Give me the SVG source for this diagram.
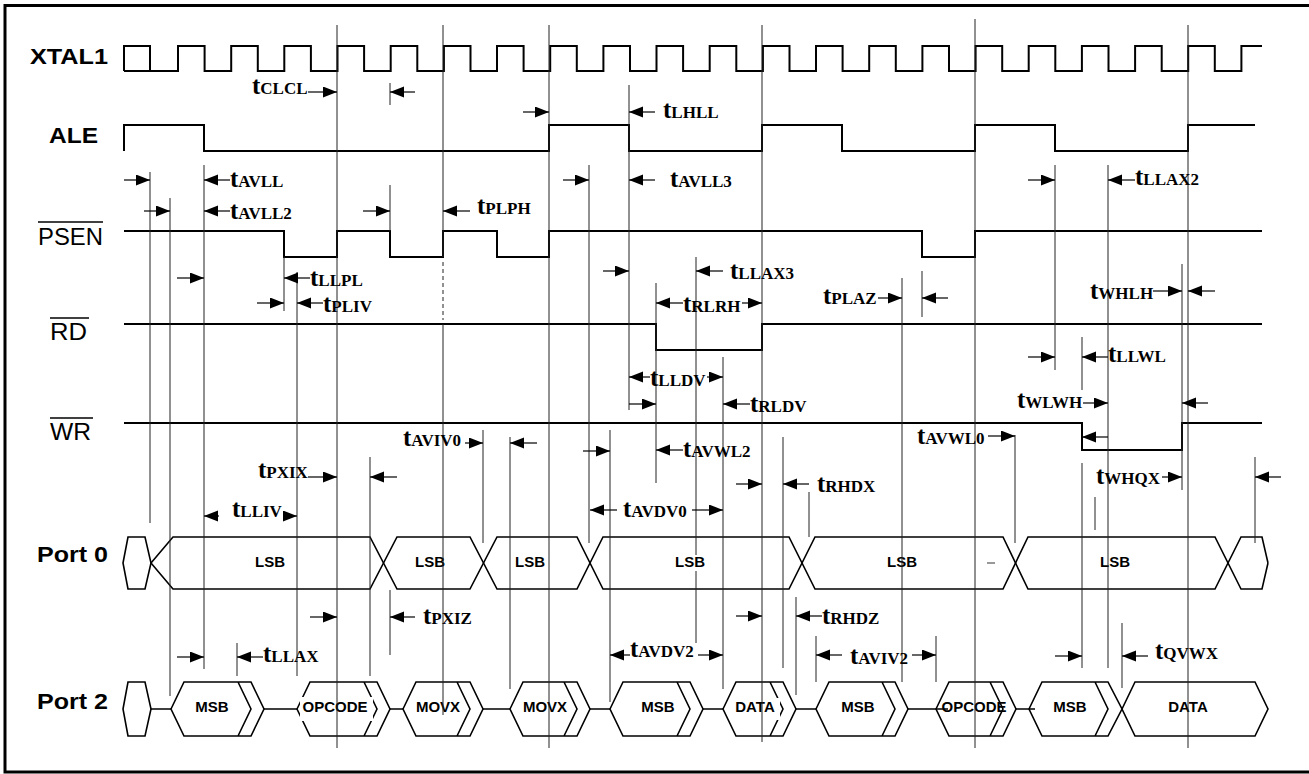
<svg xmlns="http://www.w3.org/2000/svg" width="1309" height="774" viewBox="0 0 1309 774">
<style>
.w{fill:none;stroke:#000;stroke-width:2}
.bus{fill:none;stroke:#000;stroke-width:1.6;stroke-linejoin:miter}
.v{stroke:#222;stroke-width:1;fill:none}
.a{stroke:#000;stroke-width:1.2;fill:none;marker-end:url(#ah)}
.sig{font-family:"Liberation Sans",Arial,sans-serif;font-weight:bold;font-size:22px;fill:#000}
.sigr{font-family:"Liberation Sans",Arial,sans-serif;font-size:24px;fill:#000}
.bl{font-family:"Liberation Sans",Arial,sans-serif;font-weight:bold;font-size:15px;fill:#000;text-anchor:middle}
.tl{font-family:"Liberation Serif","Times New Roman",serif;font-weight:bold;font-size:25px;fill:#000}
.sb{font-size:17px}
.ol{stroke:#000;stroke-width:1.6}
</style>
<defs>
<marker id="ah" markerUnits="userSpaceOnUse" markerWidth="15" markerHeight="12" refX="14" refY="5.5" orient="auto">
<path d="M0,0 L14,5.5 L0,11 Z" fill="#000"/>
</marker>
</defs>
<rect x="5" y="5.5" width="1310" height="766.5" fill="#fff" stroke="#000" stroke-width="3"/>

<g id="labels">
<text class="sig" x="30" y="64" textLength="78" lengthAdjust="spacingAndGlyphs">XTAL1</text>
<text class="sig" x="49" y="143" textLength="49" lengthAdjust="spacingAndGlyphs">ALE</text>
<text class="sigr" x="38" y="245" textLength="65" lengthAdjust="spacingAndGlyphs">PSEN</text>
<line class="ol" x1="38" y1="222" x2="103" y2="222"/>
<text class="sigr" x="50" y="340" textLength="37" lengthAdjust="spacingAndGlyphs">RD</text>
<line class="ol" x1="50" y1="318" x2="89" y2="318"/>
<text class="sigr" x="50" y="440" textLength="41" lengthAdjust="spacingAndGlyphs">WR</text>
<line class="ol" x1="50" y1="418" x2="93" y2="418"/>
<text class="sig" x="37" y="562" textLength="71" lengthAdjust="spacingAndGlyphs">Port 0</text>
<text class="sig" x="37" y="709" textLength="71" lengthAdjust="spacingAndGlyphs">Port 2</text>
</g>

<g id="xtal1">
<path class="w" d="M124,71 H150 M124,71 V46 H150 V71 H178 V46 H204.6 V71 H231.2 V46 H257.8 V71 H284.3 V46 H310.9 V71 H337.5 V46 H364.1 V71 H390.7 V46 H417.3 V71 H443.9 V46 H470.5 V71 H497 V46 H523.6 V71 H550.2 V46 H576.8 V71 H603.4 V46 H630 V71 H656.5 V46 H683.1 V71 H709.7 V46 H736.3 V71 H762.9 V46 H789.5 V71 H816 V46 H842.6 V71 H869.2 V46 H895.8 V71 H922.4 V46 H949 V71 H975.6 V46 H1002.2 V71 H1028.7 V46 H1055.3 V71 H1081.9 V46 H1108.5 V71 H1135.1 V46 H1161.7 V71 H1188.2 V46 H1214.8 V71 H1241.4 V46 H1262"/>
</g>
<g id="ale">
<path class="w" d="M124,151 V125 H204 V151 H549 V125 H629 V151 H762 V125 H842 V151 H975 V125 H1055 V151 H1188 V125 H1255"/>
</g>
<g id="psen">
<path class="w" d="M124,231 H284 V257 H337 V231 H390 V257 H443 V231 H497 V257 H549 V231 H922 V257 H975 V231 H1262"/>
</g>
<g id="rd">
<path class="w" d="M124,324 H656 V350 H762 V324 H1262"/>
</g>
<g id="wr">
<path class="w" d="M124,423 H1082 V450 H1182 V423 H1262"/>
</g>

<g id="port0">
<path class="bus" d="M123,563 L128,537 H145 L151,563 L145,589 H128 Z"/>
<path class="bus" d="M151,563 L173,537 H370 L397,589 H470 L497,537 H577 L603,589 H789 L815,537 H1003 L1028,589 H1215 L1241,537 H1262 L1268,563"/>
<path class="bus" d="M151,563 L173,589 H370 L397,537 H470 L497,589 H577 L603,537 H789 L815,589 H1003 L1028,537 H1215 L1241,589 H1262 L1268,563"/>
<line x1="987" y1="563" x2="995" y2="563" stroke="#777" stroke-width="1.5"/>
<text class="bl" x="270" y="567">LSB</text>
<text class="bl" x="430" y="567">LSB</text>
<text class="bl" x="530" y="567">LSB</text>
<text class="bl" x="690" y="567">LSB</text>
<text class="bl" x="902" y="567">LSB</text>
<text class="bl" x="1115" y="567">LSB</text>
</g>

<g id="port2">
<path class="bus" d="M123,709 L128,682 H145 L151,709 L145,736 H128 Z"/>
<path class="bus" d="M151,709 H171 M264,709 H297 M390,709 H403 M483,709 H510 M590,709 H610 M703,709 H723 M796,709 H816 M908,709 H948 M1016,709 H1035"/>
<path class="bus" d="M171,709 L184,682 H251 L264,709 L251,736 H184 Z M238,682 L251,709 L238,736"/>
<path class="bus" d="M297,709 L310,682 H377 L390,709 L377,736 H310 Z M364,682 L377,709 L364,736"/>
<path class="bus" d="M403,709 L416,682 H470 L483,709 L470,736 H416 Z M457,682 L470,709 L457,736"/>
<path class="bus" d="M510,709 L523,682 H577 L590,709 L577,736 H523 Z M564,682 L577,709 L564,736"/>
<path class="bus" d="M610,709 L623,682 H690 L703,709 L690,736 H623 Z M677,682 L690,709 L677,736"/>
<path class="bus" d="M723,709 L736,682 H783 L796,709 L783,736 H736 Z M770,682 L783,709 L770,736"/>
<path class="bus" d="M816,709 L829,682 H895 L908,709 L895,736 H829 Z M882,682 L895,709 L882,736"/>
<path class="bus" d="M936,709 L949,682 H1003 L1016,709 L1003,736 H949 Z M990,682 L1003,709 L990,736"/>
<path class="bus" d="M1029,709 L1042,682 H1108 L1122,709 L1108,736 H1042 Z M1095,682 L1108,709 L1095,736"/>
<path class="bus" d="M1122,709 L1135,682 H1255 L1268,709 L1255,736 H1135 Z"/>
<rect x="300" y="697" width="73" height="24" fill="#fff"/>
<rect x="732" y="698" width="48" height="22" fill="#fff"/>
<text class="bl" x="212" y="712">MSB</text>
<text class="bl" x="335" y="712">OPCODE</text>
<text class="bl" x="438" y="712">MOVX</text>
<text class="bl" x="545" y="712">MOVX</text>
<text class="bl" x="658" y="712">MSB</text>
<text class="bl" x="755" y="712">DATA</text>
<text class="bl" x="858" y="712">MSB</text>
<text class="bl" x="974" y="712">OPCODE</text>
<text class="bl" x="1070" y="712">MSB</text>
<text class="bl" x="1188" y="712">DATA</text>
</g>

<g id="connectors">
<path class="v" d="M150,172 V523 M170,198 V696 M204,165 V669 M237,643 V676 M284,257 V311 M297,272 V676 M337,25 V748 M370,457 V676 M390,83 V105 M390,185 V231 M390,590 V655 M443,25 V257 M443,324 V715 M483,430 V543 M510,437 V689 M549,25 V748 M589,165 V543 M610,430 V702 M629,85 V410 M656,283 V483 M696,257 V555 M696,571 V643 M723,357 V689 M762,25 V742 M783,437 V668 M796,597 V695 M809,492 V537 M816,636 V682 M902,278 V682 M922,271 V317 M936,636 V682 M975,19 V748 M1015,435 V543 M1055,165 V370 M1082,337 V390 M1082,463 V668 M1095,497 V530 M1108,165 V668 M1122,623 V688 M1182,264 V490 M1188,25 V748 M1255,457 V543"/>
<path class="v" d="M443,262 V320" stroke-dasharray="4 3"/>
<g id="arrows">
<path class="a" d="M308,92 H337"/><path class="a" d="M415,92 H390"/>
<path class="a" d="M523,112 H549"/><path class="a" d="M655,112 H629"/>
<path class="a" d="M124,180 H150"/><path class="a" d="M230,180 H204"/>
<path class="a" d="M144,211 H170"/><path class="a" d="M230,211 H204"/>
<path class="a" d="M363,211 H390"/><path class="a" d="M470,211 H443"/>
<path class="a" d="M563,180 H589"/><path class="a" d="M655,180 H629"/>
<path class="a" d="M1028,180 H1055"/><path class="a" d="M1135,180 H1108"/>
<path class="a" d="M177,278 H204"/><path class="a" d="M310,278 H284"/>
<path class="a" d="M257,303 H284"/><path class="a" d="M323,303 H297"/>
<path class="a" d="M603,271 H629"/><path class="a" d="M723,271 H696"/>
<path class="a" d="M683,303 H656"/><path class="a" d="M742,303 H762"/>
<path class="a" d="M878,298 H902"/><path class="a" d="M948,298 H922"/>
<path class="a" d="M1153,291 H1182"/><path class="a" d="M1215,291 H1188"/>
<path class="a" d="M1028,357 H1055"/><path class="a" d="M1108,357 H1082"/>
<path class="a" d="M650,377 H629"/><path class="a" d="M707,377 H723"/>
<path class="a" d="M629,404 H656"/><path class="a" d="M750,404 H723"/>
<path class="a" d="M1083,403 H1108"/><path class="a" d="M1208,403 H1182"/>
<path class="a" d="M1108,437 H1082"/>
<path class="a" d="M465,443 H483"/><path class="a" d="M537,443 H510"/>
<path class="a" d="M583,451 H610"/>
<path class="a" d="M683,450 H656"/>
<path class="a" d="M988,436 H1015"/>
<path class="a" d="M308,477 H337"/><path class="a" d="M397,477 H370"/>
<path class="a" d="M736,484 H762"/><path class="a" d="M809,484 H783"/>
<path class="a" d="M1162,477 H1182"/><path class="a" d="M1281,477 H1255"/>
<path class="a" d="M219,516 H204"/><path class="a" d="M283,516 H297"/>
<path class="a" d="M617,510 H590"/><path class="a" d="M692,510 H723"/>
<path class="a" d="M310,617 H337"/><path class="a" d="M415,617 H390"/>
<path class="a" d="M736,616 H762"/><path class="a" d="M822,616 H796"/>
<path class="a" d="M177,657 H204"/><path class="a" d="M263,657 H237"/>
<path class="a" d="M630,655 H610"/><path class="a" d="M698,655 H723"/>
<path class="a" d="M842,655 H816"/><path class="a" d="M912,655 H936"/>
<path class="a" d="M1055,656 H1082"/><path class="a" d="M1148,656 H1122"/>
</g>
</g>

<g id="timing-labels">
<text class="tl" x="252" y="94">t<tspan class="sb">CLCL</tspan></text>
<text class="tl" x="663" y="118">t<tspan class="sb">LHLL</tspan></text>
<text class="tl" x="230" y="187">t<tspan class="sb">AVLL</tspan></text>
<text class="tl" x="230" y="219">t<tspan class="sb">AVLL2</tspan></text>
<text class="tl" x="477" y="214">t<tspan class="sb">PLPH</tspan></text>
<text class="tl" x="670" y="187">t<tspan class="sb">AVLL3</tspan></text>
<text class="tl" x="1135" y="185">t<tspan class="sb">LLAX2</tspan></text>
<text class="tl" x="310" y="286">t<tspan class="sb">LLPL</tspan></text>
<text class="tl" x="323" y="312">t<tspan class="sb">PLIV</tspan></text>
<text class="tl" x="730" y="279">t<tspan class="sb">LLAX3</tspan></text>
<text class="tl" x="683" y="312">t<tspan class="sb">RLRH</tspan></text>
<text class="tl" x="823" y="304">t<tspan class="sb">PLAZ</tspan></text>
<text class="tl" x="1090" y="299">t<tspan class="sb">WHLH</tspan></text>
<text class="tl" x="1108" y="362">t<tspan class="sb">LLWL</tspan></text>
<text class="tl" x="650" y="386">t<tspan class="sb">LLDV</tspan></text>
<text class="tl" x="750" y="412">t<tspan class="sb">RLDV</tspan></text>
<text class="tl" x="1017" y="408">t<tspan class="sb">WLWH</tspan></text>
<text class="tl" x="403" y="446">t<tspan class="sb">AVIV0</tspan></text>
<text class="tl" x="683" y="457">t<tspan class="sb">AVWL2</tspan></text>
<text class="tl" x="917" y="444">t<tspan class="sb">AVWL0</tspan></text>
<text class="tl" x="258" y="478">t<tspan class="sb">PXIX</tspan></text>
<text class="tl" x="817" y="492">t<tspan class="sb">RHDX</tspan></text>
<text class="tl" x="1096" y="484">t<tspan class="sb">WHQX</tspan></text>
<text class="tl" x="232" y="517">t<tspan class="sb">LLIV</tspan></text>
<text class="tl" x="623" y="517">t<tspan class="sb">AVDV0</tspan></text>
<text class="tl" x="423" y="624">t<tspan class="sb">PXIZ</tspan></text>
<text class="tl" x="822" y="624">t<tspan class="sb">RHDZ</tspan></text>
<text class="tl" x="263" y="662">t<tspan class="sb">LLAX</tspan></text>
<text class="tl" x="630" y="657">t<tspan class="sb">AVDV2</tspan></text>
<text class="tl" x="850" y="664">t<tspan class="sb">AVIV2</tspan></text>
<text class="tl" x="1155" y="659" font-weight="normal">t<tspan class="sb">QVWX</tspan></text>
</g>
</svg>
